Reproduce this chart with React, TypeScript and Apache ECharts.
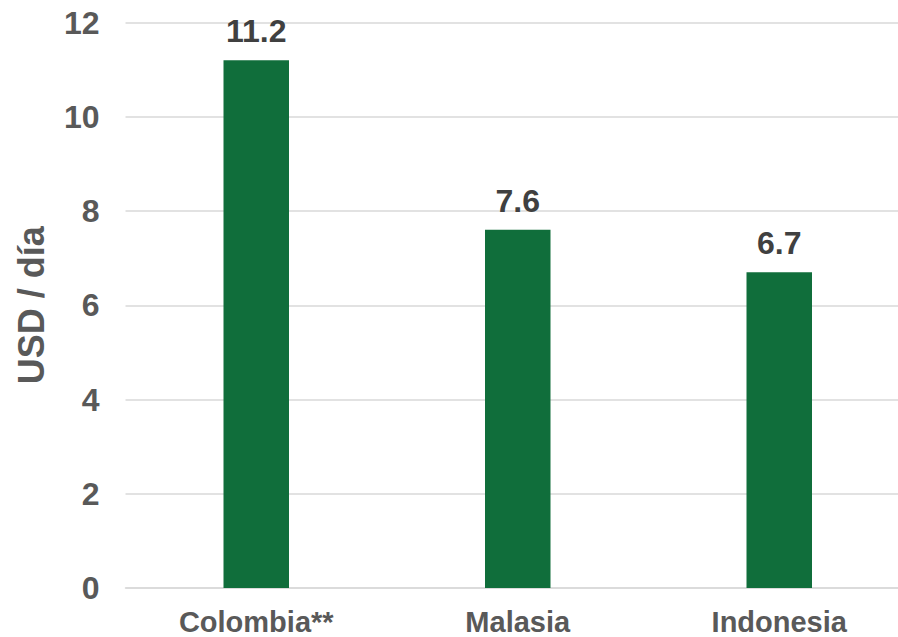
import React, { useEffect, useRef } from "react";
import * as echarts from "echarts";

const categories = ["Colombia**", "Malasia", "Indonesia"];
const values = [11.2, 7.6, 6.7];
const yTicks = [0, 2, 4, 6, 8, 10, 12];
const axisTitle = "USD / día";

export default function App() {
  const ref = useRef<HTMLDivElement>(null);
  useEffect(() => {
    const chart = echarts.init(ref.current!, null, { renderer: "svg" });
    const font = "'Liberation Sans', Arial, sans-serif";
    chart.setOption({
      animation: false,
      grid: { left: 125.5, right: 0, top: 22.5, bottom: 49, containLabel: false },
      xAxis: {
        type: "category",
        data: categories,
        axisTick: { show: false },
        axisLine: { show: true, lineStyle: { color: "#d9d9d9", width: 1.5 } },
        axisLabel: {
          color: "#595959",
          fontWeight: "bold",
          fontSize: 29,
          fontFamily: font,
          margin: 19,
        },
      },
      yAxis: {
        type: "value",
        min: yTicks[0],
        max: yTicks[yTicks.length - 1],
        interval: 2,
        name: axisTitle,
        nameLocation: "middle",
        nameGap: 76,
        nameTextStyle: {
          color: "#595959",
          fontWeight: "bold",
          fontSize: 36,
          fontFamily: font,
        },
        axisLine: { show: false },
        axisTick: { show: false },
        splitLine: { show: true, lineStyle: { color: "#d9d9d9", width: 1.5 } },
        axisLabel: {
          color: "#595959",
          fontWeight: "bold",
          fontSize: 32,
          fontFamily: font,
          margin: 26,
        },
      },
      series: [
        {
          type: "bar",
          data: values,
          barWidth: 65.5,
          itemStyle: { color: "#106e3b" },
          label: {
            show: true,
            position: "top",
            distance: 13,
            color: "#404040",
            fontWeight: "bold",
            fontSize: 32,
            fontFamily: font,
            formatter: (p: any) => p.value.toFixed(1),
          },
        },
      ],
    });
    return () => chart.dispose();
  }, []);
  return (
    <div style={{ width: 898, height: 637, position: "absolute", left: 0, top: 0, overflow: "hidden" }}>
      <div ref={ref} style={{ width: 910, height: 637 }} />
    </div>
  );
}
